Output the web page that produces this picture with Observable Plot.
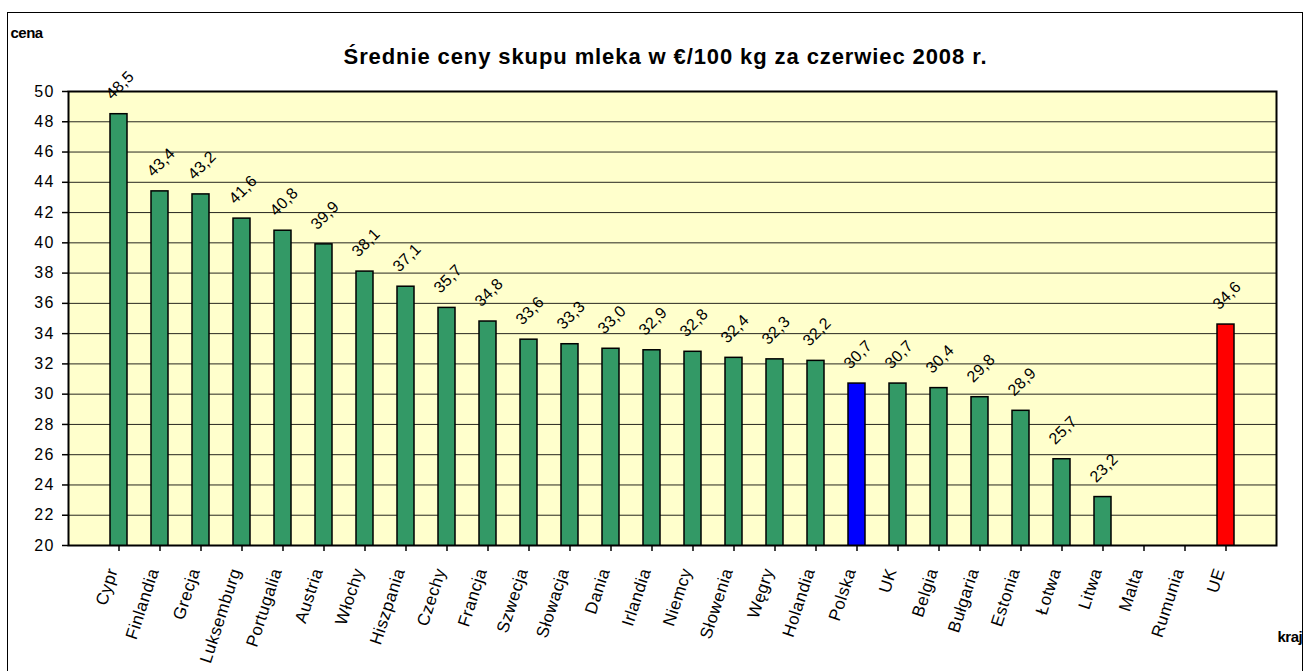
<!DOCTYPE html>
<html>
<head>
<meta charset="utf-8">
<script src="https://cdn.jsdelivr.net/npm/d3@7"></script>
<script src="https://cdn.jsdelivr.net/npm/@observablehq/plot@0.6"></script>
<style>
  html, body { margin: 0; padding: 0; background: #fff; }
  #wrap { position: relative; width: 1308px; height: 671px; overflow: hidden; }
  #border { position: absolute; left: 7px; top: 12px; width: 1296px; height: 670px; border: 1.5px solid #000; box-sizing: border-box; pointer-events: none; }
  svg { font-family: "Liberation Sans", Arial, sans-serif; }
</style>
</head>
<body>
<div id="wrap"><div id="border"></div></div>
<script>
const kraje = ["Cypr","Finlandia","Grecja","Luksemburg","Portugalia","Austria","Włochy","Hiszpania","Czechy","Francja","Szwecja","Słowacja","Dania","Irlandia","Niemcy","Słowenia","Węgry","Holandia","Polska","UK","Belgia","Bułgaria","Estonia","Łotwa","Litwa","Malta","Rumunia","UE"];
const ceny = [48.5,43.4,43.2,41.6,40.8,39.9,38.1,37.1,35.7,34.8,33.6,33.3,33.0,32.9,32.8,32.4,32.3,32.2,30.7,30.7,30.4,29.8,28.9,25.7,23.2,null,null,34.6];
const yTicks = d3.range(20, 51, 2);
const yDomain = [20, 50];
const tytul = "Średnie ceny skupu mleka w €/100 kg za czerwiec 2008 r.";

const data = kraje.map((k, i) => ({kraj: k, cena: ceny[i]}));
const withVal = data.filter(d => d.cena != null);
const fmt = v => d3.format(".1f")(v).replace(".", ",");
const fillOf = d => d.kraj === "Polska" ? "#0000FF" : d.kraj === "UE" ? "#FF0000" : "#339966";

const chart = Plot.plot({
  width: 1308,
  height: 671,
  marginLeft: 68,
  marginRight: 32,
  marginTop: 91,
  marginBottom: 126,
  style: {fontFamily: "'Liberation Sans', Arial, sans-serif", background: "transparent", overflow: "visible"},
  x: {domain: kraje, paddingInner: 0.59, paddingOuter: 0.795, label: null},
  y: {domain: yDomain, label: null},
  marks: [
    Plot.frame({fill: "#FFFFCC", stroke: null}),
    Plot.ruleY(yTicks, {stroke: "#000", strokeWidth: 1, strokeOpacity: 0.85}),
    Plot.barY(withVal, {x: "kraj", y: "cena", fill: fillOf, stroke: "#000", strokeWidth: 1.5, clip: true}),
    Plot.frame({stroke: "#000", strokeWidth: 2}),
    Plot.axisY({ticks: yTicks, tickSize: 6, tickPadding: 8, fontSize: 16, tickFormat: d => d, stroke: "#000", strokeWidth: 1.5, color: "#000"}),
    Plot.axisX({tickSize: 6, tickFormat: () => "", stroke: "#000", strokeWidth: 1.5}),
    Plot.text(kraje, {x: d => d, frameAnchor: "bottom", dy: 25, dx: -1, rotate: -72, textAnchor: "end", fontSize: 17, fill: "#000"}),
    Plot.text(withVal, {x: "kraj", y: "cena", text: d => fmt(d.cena), rotate: -45, dy: -29, dx: 1, fontSize: 16, fill: "#000"}),
    Plot.text([tytul], {frameAnchor: "top", dy: -43, dx: -7, fontSize: 22, fontWeight: "bold", fill: "#000"}),
    Plot.text(["cena"], {frameAnchor: "top-left", dx: -58, dy: -64, textAnchor: "start", fontSize: 15, fontWeight: "bold", fill: "#000"}),
    Plot.text(["kraj"], {frameAnchor: "bottom-right", dx: 1, dy: 96, textAnchor: "start", fontSize: 15, fontWeight: "bold", fill: "#000"})
  ]
});
// letter spacing to mimic the wide rendering of the original
chart.querySelectorAll("text").forEach(t => {
  const txt = t.textContent;
  if (txt === tytul) t.setAttribute("letter-spacing", "0.9");
  else if (txt === "cena" || txt === "kraj") t.setAttribute("letter-spacing", "-0.5");
  else if (kraje.includes(txt)) t.setAttribute("letter-spacing", "0.5");
  else if (/^\d+,\d$/.test(txt)) t.setAttribute("letter-spacing", "0.3");
  else if (/^\d+$/.test(txt)) t.setAttribute("letter-spacing", "1.2");
});
document.getElementById("wrap").prepend(chart);
</script>
</body>
</html>
